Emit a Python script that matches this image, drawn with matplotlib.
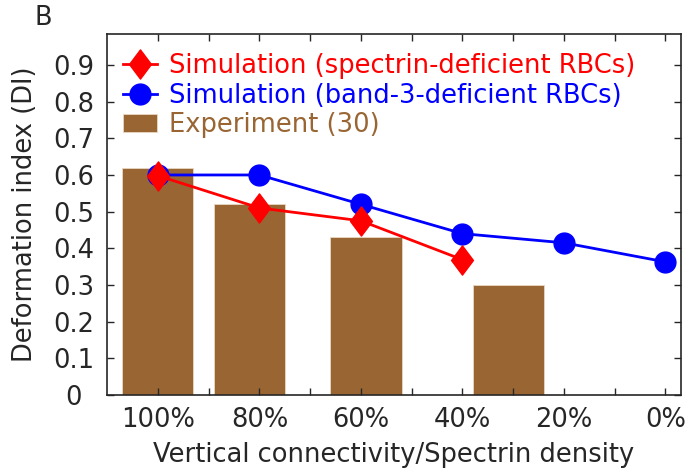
import matplotlib.pyplot as plt
from matplotlib.ticker import FixedLocator
from matplotlib.path import Path

plt.rcParams["font.family"] = ["DejaVu Sans"]

# spectrin / vertical connectivity levels (%)
levels = [100, 80, 60, 40, 20, 0]
level_labels = ["100%", "80%", "60%", "40%", "20%", "0%"]

di_band3 = [0.60, 0.60, 0.52, 0.44, 0.415, 0.363]
levels_spectrin = [100, 80, 60, 40]
di_spectrin = [0.598, 0.51, 0.475, 0.369]

exp_levels = [100, 82, 59, 31]
di_exp = [0.62, 0.52, 0.43, 0.30]

brown = "#996633"
axc = "#262626"
fs = 18.5

# slightly narrow diamond
diamond = Path([(0, 1), (0.75, 0), (0, -1), (-0.75, 0), (0, 1)],
               [Path.MOVETO, Path.LINETO, Path.LINETO, Path.LINETO, Path.CLOSEPOLY])

fig = plt.figure(figsize=(6.96, 4.68), dpi=100)
ax = fig.add_axes([0.154, 0.156, 0.824, 0.771])

bars = ax.bar(exp_levels, di_exp, width=14, color=brown, edgecolor="#e8d8c4",
              linewidth=0.6, zorder=1, label="Experiment (30)")
l_blue, = ax.plot(levels, di_band3, "-o", color="#0000ff", lw=2, ms=15,
                  zorder=3, label="Simulation (band-3-deficient RBCs)")
l_red, = ax.plot(levels_spectrin, di_spectrin, "-", marker=diamond, color="#ff0000",
                 lw=2, ms=21, zorder=4, label="Simulation (spectrin-deficient RBCs)")

ax.set_xlim(110, -3)
ax.set_ylim(0, 0.984)
ax.xaxis.set_major_locator(FixedLocator(levels))
ax.set_xticklabels(level_labels)
ax.set_yticks([0, 0.1, 0.2, 0.3, 0.4, 0.5, 0.6, 0.7, 0.8, 0.9])
ax.set_yticklabels(["0", "0.1", "0.2", "0.3", "0.4", "0.5", "0.6", "0.7", "0.8", "0.9"],
                   ha="center")
ax.set_xticks([90, 70, 50, 30, 10], minor=True)

ax.tick_params(which="both", direction="in", top=True, right=True,
               labelsize=fs, color=axc, labelcolor=axc, length=5, width=1)
ax.tick_params(axis="x", pad=9)
ax.tick_params(axis="y", pad=24)
for s in ax.spines.values():
    s.set_color(axc)
    s.set_linewidth(1.2)

ax.set_xlabel("Vertical connectivity/Spectrin density", fontsize=fs, color=axc, labelpad=6)
ax.set_ylabel("Deformation index (DI)", fontsize=fs, color=axc, labelpad=11)

leg = ax.legend([l_red, l_blue, bars],
                [l_red.get_label(), l_blue.get_label(), bars.get_label()],
                loc="upper left", frameon=False, fontsize=fs,
                handlelength=1.3, handletextpad=0.5, labelspacing=0.12,
                borderaxespad=0.0, bbox_to_anchor=(0.01, 0.975))
for txt, c in zip(leg.get_texts(), ["#ff0000", "#0000ff", brown]):
    txt.set_color(c)

fig.text(0.05, 0.99, "B", fontsize=fs, color=axc, ha="left", va="top")

fig.savefig("out.png", dpi=100)
